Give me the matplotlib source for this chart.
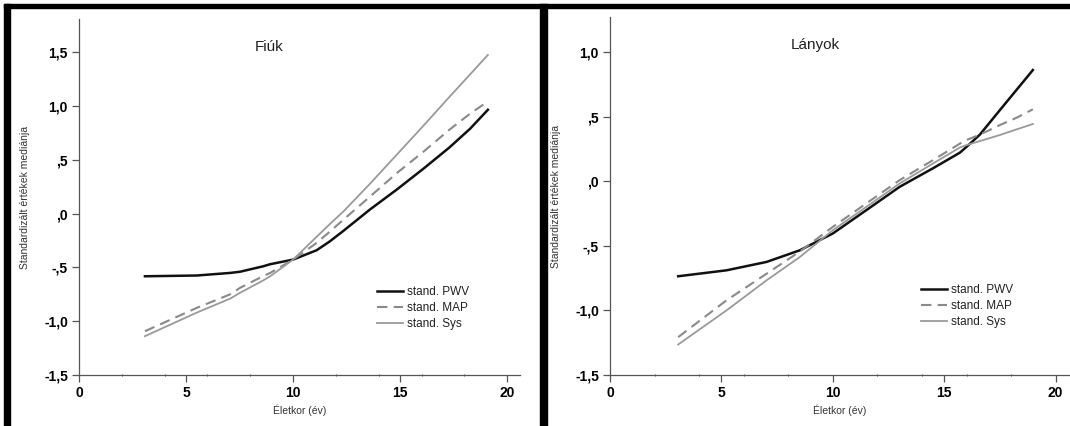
import numpy as np
import matplotlib.pyplot as plt
from matplotlib.patches import Rectangle
from matplotlib.ticker import MultipleLocator

# ---- data ----
age_boys = [3.08, 5.5, 7.06, 7.52, 8.61, 8.93, 10.0, 11.1, 11.7, 12.35, 13.6, 14.85, 16.1, 17.3, 18.27, 19.1]
pwv_boys = [-0.582, -0.575, -0.551, -0.54, -0.489, -0.47, -0.427, -0.34, -0.26, -0.16, 0.04, 0.225, 0.42, 0.615, 0.79, 0.966]
map_boys = [-1.093, -0.876, -0.75, -0.69, -0.58, -0.551, -0.427, -0.272, -0.17, -0.056, 0.16, 0.378, 0.578, 0.78, 0.93, 1.043]
sys_boys = [-1.139, -0.92, -0.79, -0.736, -0.62, -0.582, -0.427, -0.215, -0.10, 0.02, 0.28, 0.55, 0.82, 1.085, 1.295, 1.476]

age_girls = [3.06, 5.23, 7.03, 8.52, 10.0, 11.5, 13.0, 14.5, 15.7, 16.0, 16.6, 17.5, 18.24, 18.98]
pwv_girls = [-0.736, -0.69, -0.625, -0.535, -0.405, -0.225, -0.044, 0.10, 0.22, 0.265, 0.36, 0.55, 0.705, 0.86]
map_girls = [-1.207, -0.922, -0.716, -0.545, -0.354, -0.173, 0.008, 0.163, 0.29, 0.318, 0.36, 0.434, 0.49, 0.556]
sys_girls = [-1.264, -1.0, -0.767, -0.587, -0.38, -0.2, -0.018, 0.137, 0.26, 0.279, 0.31, 0.357, 0.40, 0.442]

yticks_boys = [-1.5, -1.0, -0.5, 0.0, 0.5, 1.0, 1.5]
ylabels_boys = ['-1,5', '-1,0', '-,5', ',0', ',5', '1,0', '1,5']
yticks_girls = [-1.5, -1.0, -0.5, 0.0, 0.5, 1.0]
ylabels_girls = ['-1,5', '-1,0', '-,5', ',0', ',5', '1,0']
xticks = [0, 5, 10, 15, 20]

W, H = 1070, 426
plt.rcParams['font.family'] = ['Liberation Sans', 'DejaVu Sans']
fig = plt.figure(figsize=(W / 100, H / 100), dpi=100)

spine_col = '#555555'


def px_rect(x0, y0, x1, y1):
    # figure-fraction rect from pixel coords (top-left origin)
    return [x0 / W, 1 - y1 / H, (x1 - x0) / W, (y1 - y0) / H]


def panel(rect, age, pwv, mp, sy, ylim, yticks, ylabels, title, title_xy, leg_xy):
    ax = fig.add_axes(rect)
    ax.plot(age, pwv, color='#111111', lw=1.8, label='stand. PWV', solid_joinstyle='round')
    ax.plot(age, mp, color='#8a8a8a', lw=1.5, ls=(0, (5, 3)), label='stand. MAP')
    ax.plot(age, sy, color='#9a9a9a', lw=1.3, label='stand. Sys', solid_joinstyle='round')
    ax.set_xlim(0, 20.6)
    ax.set_ylim(*ylim)
    for s in ['top', 'right']:
        ax.spines[s].set_visible(False)
    for s in ['left', 'bottom']:
        ax.spines[s].set_color(spine_col)
        ax.spines[s].set_linewidth(0.9)
    ax.set_xticks(xticks)
    ax.set_xticklabels([str(t) for t in xticks], fontweight='bold', fontsize=10)
    ax.xaxis.set_minor_locator(MultipleLocator(2))
    ax.set_yticks(yticks)
    ax.set_yticklabels(ylabels, fontweight='bold', fontsize=10)
    ax.tick_params(which='major', length=5, width=0.9, color=spine_col, pad=3)
    ax.tick_params(which='minor', axis='x', length=2, width=0.8, color=spine_col,
                   direction='inout')
    ax.set_xlabel('Életkor (év)', fontsize=7.5, color='#333333', labelpad=3)
    ax.set_ylabel('Standardizált értékek mediánja', fontsize=7.5, color='#333333',
                  labelpad=10)
    ax.text(title_xy[0], title_xy[1], title, fontsize=11, ha='center', va='center',
            color='#222222')
    ax.legend(loc='upper left', bbox_to_anchor=(leg_xy[0] / W, 1 - leg_xy[1] / H),
              bbox_transform=fig.transFigure, frameon=False, fontsize=8.5,
              handlelength=2.2, handletextpad=0.3, labelspacing=0.35,
              borderpad=0, borderaxespad=0, labelcolor='#222222')
    return ax


panel(px_rect(79, 19, 520, 375), age_boys, pwv_boys, map_boys, sys_boys,
      (-1.5, 1.81), yticks_boys, ylabels_boys, 'Fiúk', (8.9, 1.55), (377, 286))
panel(px_rect(610, 17, 1069, 375), age_girls, pwv_girls, map_girls, sys_girls,
      (-1.5, 1.27), yticks_girls, ylabels_girls, 'Lányok', (9.2, 1.05), (921, 284))

# black frame bands of the scanned figure
for x0, y0, x1, y1 in [(4, 3.5, W, 8), (4, 3.5, 9.5, H), (540, 3.5, 547, H)]:
    fig.patches.append(Rectangle((x0 / W, 1 - y1 / H), (x1 - x0) / W, (y1 - y0) / H,
                                 transform=fig.transFigure, color='black', zorder=10))

fig.savefig('out.png', dpi=100)
